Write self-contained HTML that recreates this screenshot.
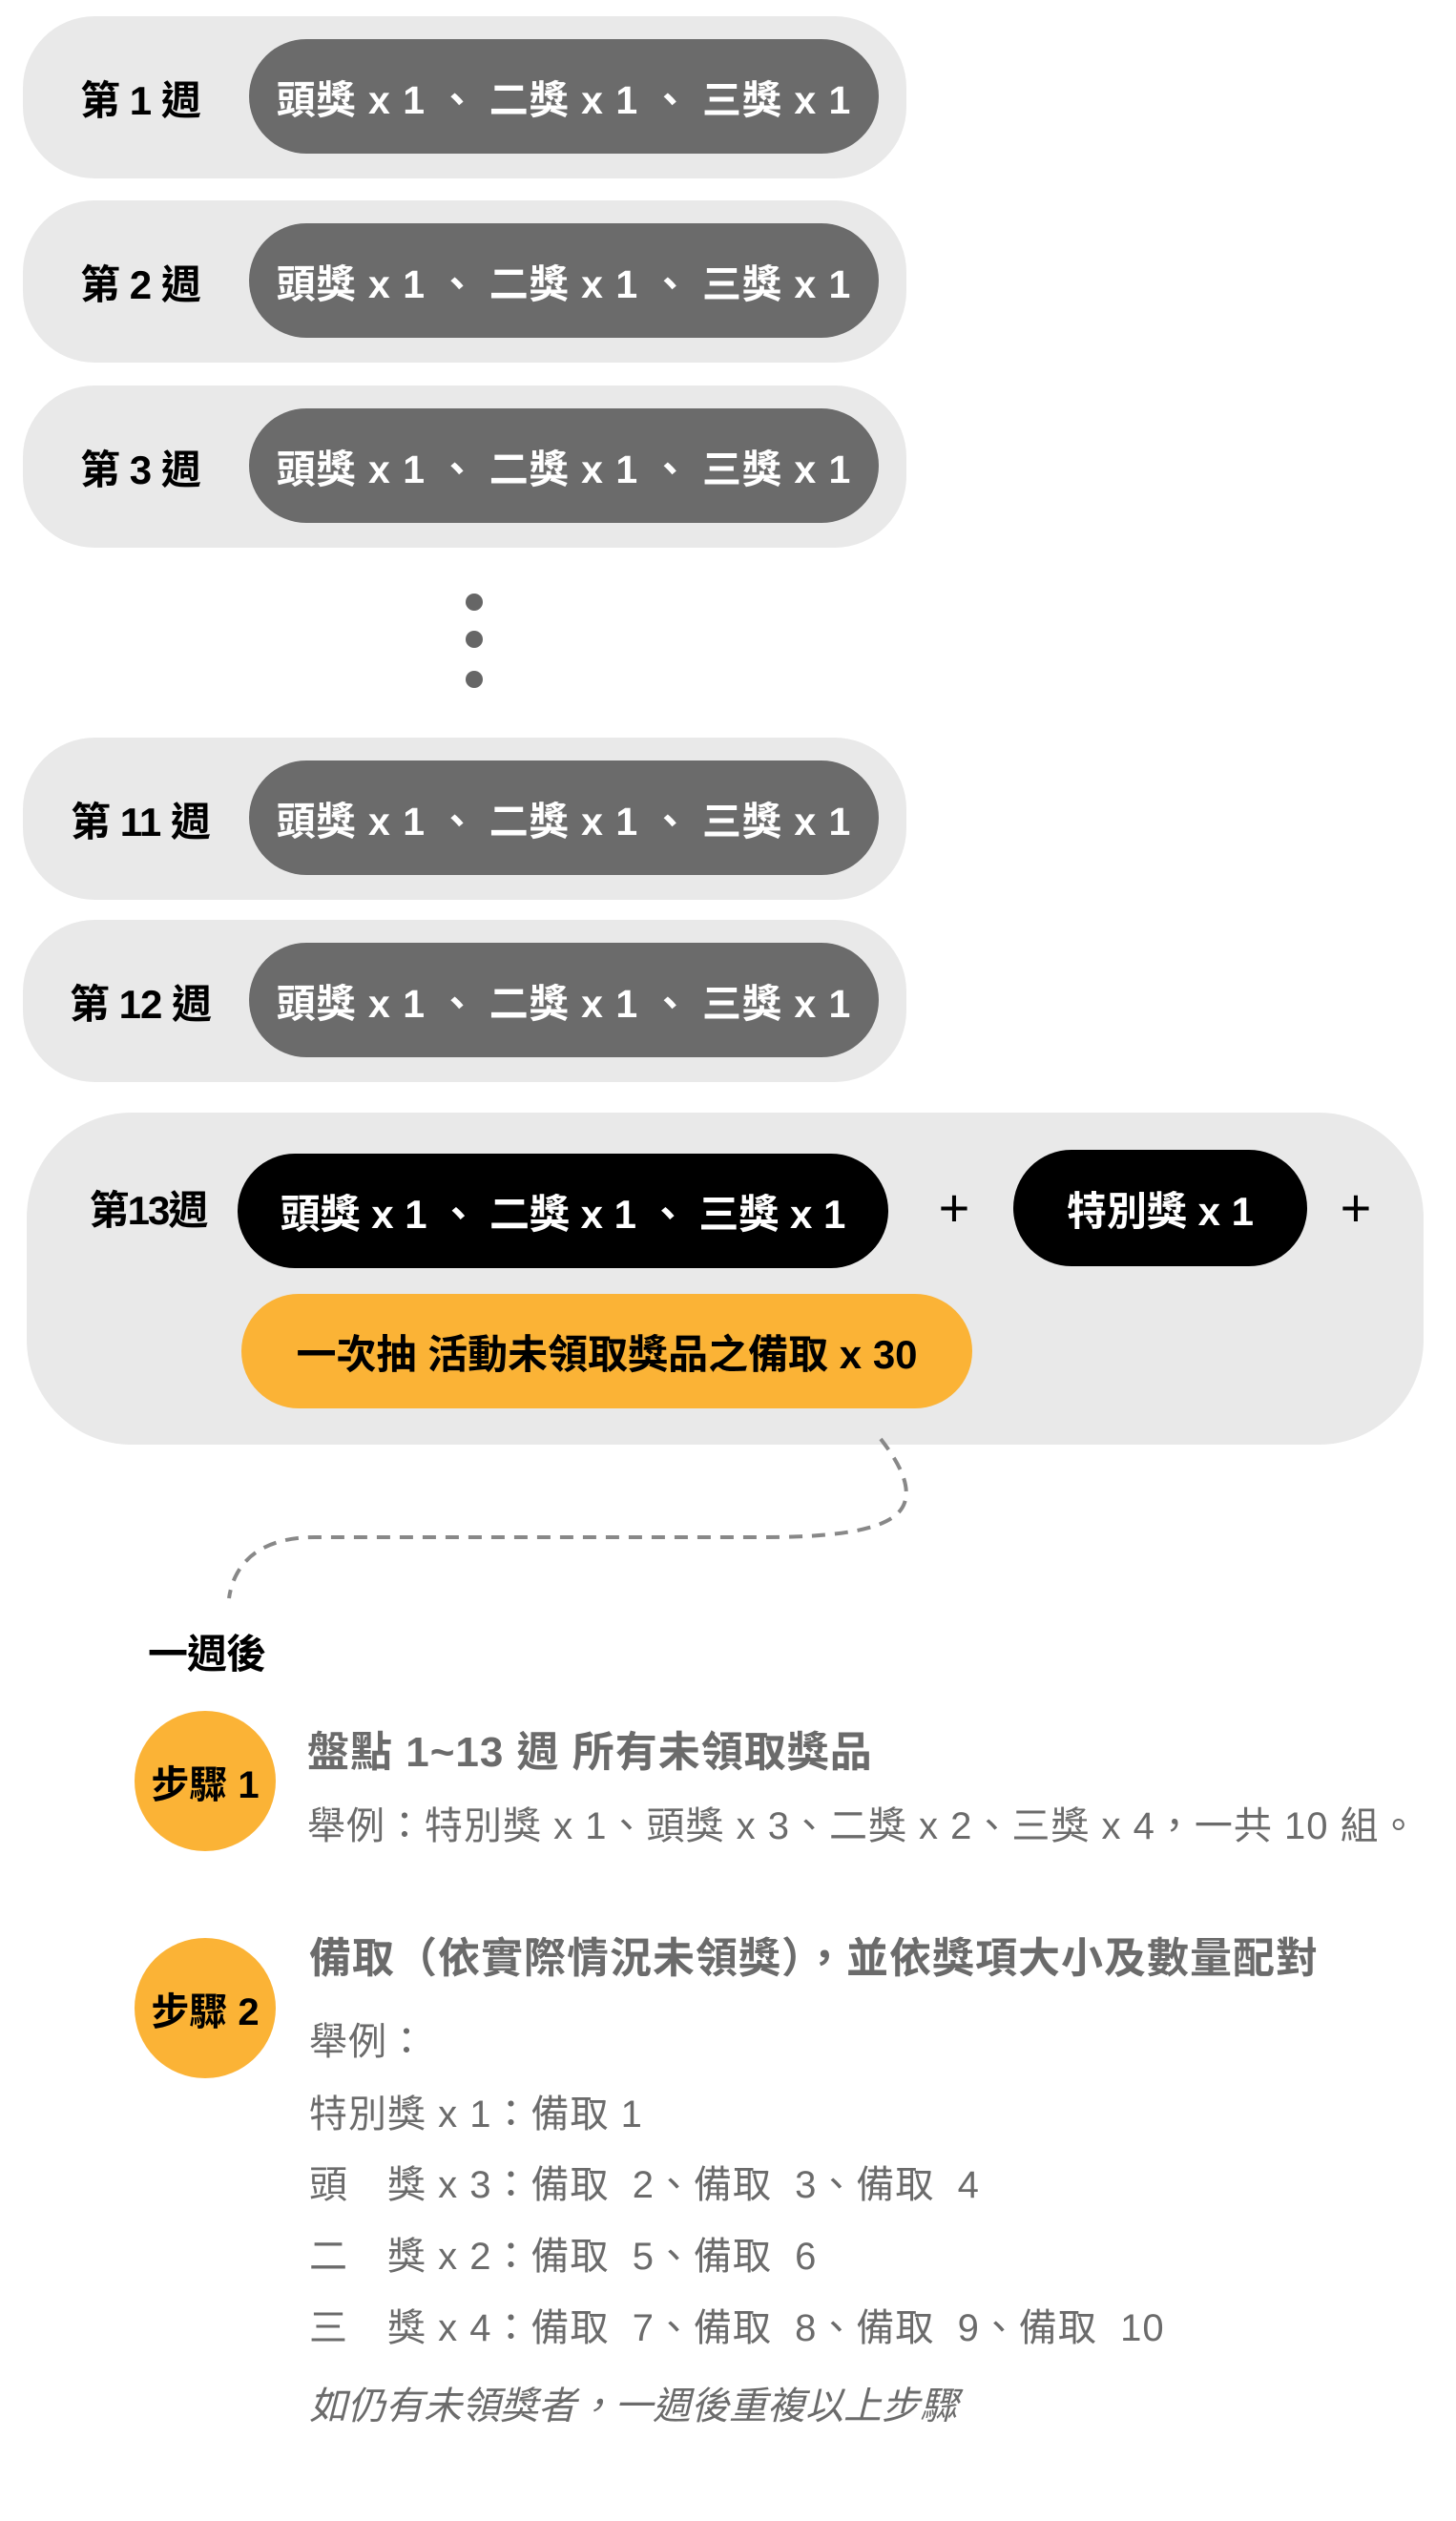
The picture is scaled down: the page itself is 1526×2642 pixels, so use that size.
<!DOCTYPE html>
<html><head><meta charset="utf-8"><style>
html,body{margin:0;padding:0;background:#fff}
body{width:1526px;height:2642px;position:relative;overflow:hidden;font-family:"Liberation Sans","Noto Sans CJK TC",sans-serif}
.o{position:absolute;left:24px;width:926px;height:170px;background:#e9e9e9;border-radius:75px}
.lab{position:absolute;left:0;width:232px;top:0;height:170px;display:flex;align-items:center;justify-content:center;font-weight:bold;font-size:42px;color:#000;padding-left:14px;box-sizing:border-box;white-space:nowrap;letter-spacing:-1px}
.in{position:absolute;left:237px;width:660px;top:24px;height:120px;background:#6b6b6b;border-radius:60px;display:flex;align-items:center;justify-content:center;color:#fff;font-weight:bold;font-size:41px;white-space:nowrap;letter-spacing:1px}
.dot{position:absolute;width:18px;height:18px;border-radius:50%;background:#666;left:488px}
.t{position:absolute;white-space:nowrap;color:#6b6b6b}
</style></head><body>

<div class="o" style="top:17px"><div class="lab">第 1 週</div><div class="in">頭獎 x 1 、 二獎 x 1 、 三獎 x 1</div></div>
<div class="o" style="top:210px"><div class="lab">第 2 週</div><div class="in">頭獎 x 1 、 二獎 x 1 、 三獎 x 1</div></div>
<div class="o" style="top:404px"><div class="lab">第 3 週</div><div class="in">頭獎 x 1 、 二獎 x 1 、 三獎 x 1</div></div>

<div class="dot" style="top:622px"></div>
<div class="dot" style="top:661px"></div>
<div class="dot" style="top:703px"></div>

<div class="o" style="top:773px"><div class="lab">第 11 週</div><div class="in">頭獎 x 1 、 二獎 x 1 、 三獎 x 1</div></div>
<div class="o" style="top:964px"><div class="lab">第 12 週</div><div class="in">頭獎 x 1 、 二獎 x 1 、 三獎 x 1</div></div>

<div style="position:absolute;left:28px;top:1166px;width:1464px;height:348px;background:#e9e9e9;border-radius:110px"></div>
<div style="position:absolute;left:70px;top:1240px;width:170px;height:50px;display:flex;align-items:center;justify-content:center;font-weight:bold;font-size:42px;letter-spacing:-2px">第13週</div>
<div style="position:absolute;left:249px;top:1209px;width:682px;height:120px;background:#000;border-radius:60px;display:flex;align-items:center;justify-content:center;color:#fff;font-weight:bold;font-size:42px;white-space:nowrap">頭獎 x 1 、 二獎 x 1 、 三獎 x 1</div>
<div style="position:absolute;left:974px;top:1238px;width:52px;height:54px;display:flex;align-items:center;justify-content:center;font-size:56px;color:#000">+</div>
<div style="position:absolute;left:1062px;top:1205px;width:308px;height:122px;background:#000;border-radius:61px;display:flex;align-items:center;justify-content:center;color:#fff;font-weight:bold;font-size:42px;white-space:nowrap">特別獎 x 1</div>
<div style="position:absolute;left:1395px;top:1238px;width:52px;height:54px;display:flex;align-items:center;justify-content:center;font-size:56px;color:#000">+</div>
<div style="position:absolute;left:253px;top:1356px;width:766px;height:120px;background:#fbb336;border-radius:60px;display:flex;align-items:center;justify-content:center;color:#000;font-weight:bold;font-size:42px;white-space:nowrap">一次抽 活動未領取獎品之備取 x 30</div>

<svg style="position:absolute;left:0;top:0" width="1526" height="2642">
<path d="M923 1508 C 940 1530, 955 1555, 948 1575 C 940 1598, 900 1611, 800 1611 L 330 1611 C 270 1611, 245 1640, 240 1675" fill="none" stroke="#888" stroke-width="4" stroke-dasharray="14 10"/>
</svg>

<div class="t" style="left:155px;top:1700px;font-size:42px;font-weight:bold;color:#000;letter-spacing:-1px">一週後</div>

<div style="position:absolute;left:141px;top:1793px;width:148px;height:147px;border-radius:50%;background:#fbb336;display:flex;align-items:center;justify-content:center;font-weight:bold;font-size:40px;white-space:nowrap">步驟 1</div>
<div style="position:absolute;left:141px;top:2031px;width:148px;height:147px;border-radius:50%;background:#fbb336;display:flex;align-items:center;justify-content:center;font-weight:bold;font-size:40px;white-space:nowrap">步驟 2</div>

<div class="t" style="left:322px;top:1810px;font-size:44px;font-weight:bold;line-height:54px;letter-spacing:1px">盤點 1~13 週 所有未領取獎品</div>
<div class="t" style="left:322px;top:1890px;font-size:40px;line-height:48px;letter-spacing:1px">舉例：特別獎 x 1、頭獎 x 3、二獎 x 2、三獎 x 4，一共 10 組。</div>
<div class="t" style="left:324px;top:2026px;font-size:44px;font-weight:bold;line-height:54px;letter-spacing:1px">備取（依實際情況未領獎），並依獎項大小及數量配對</div>
<div class="t" style="left:324px;top:2116px;font-size:40px;line-height:48px;letter-spacing:1px">舉例：</div>
<div class="t" style="left:324px;top:2192px;font-size:40px;line-height:48px;letter-spacing:1px">特別獎 x 1：備取 1</div>
<div class="t" style="left:324px;top:2266px;font-size:40px;line-height:48px;letter-spacing:1px">頭　獎 x 3：備取&nbsp; 2、備取&nbsp; 3、備取&nbsp; 4</div>
<div class="t" style="left:324px;top:2341px;font-size:40px;line-height:48px;letter-spacing:1px">二　獎 x 2：備取&nbsp; 5、備取&nbsp; 6</div>
<div class="t" style="left:324px;top:2416px;font-size:40px;line-height:48px;letter-spacing:1px">三　獎 x 4：備取&nbsp; 7、備取&nbsp; 8、備取&nbsp; 9、備取&nbsp; 10</div>
<div class="t" style="left:324px;top:2498px;font-size:40px;line-height:48px;font-style:italic">如仍有未領獎者，一週後重複以上步驟</div>

</body></html>
